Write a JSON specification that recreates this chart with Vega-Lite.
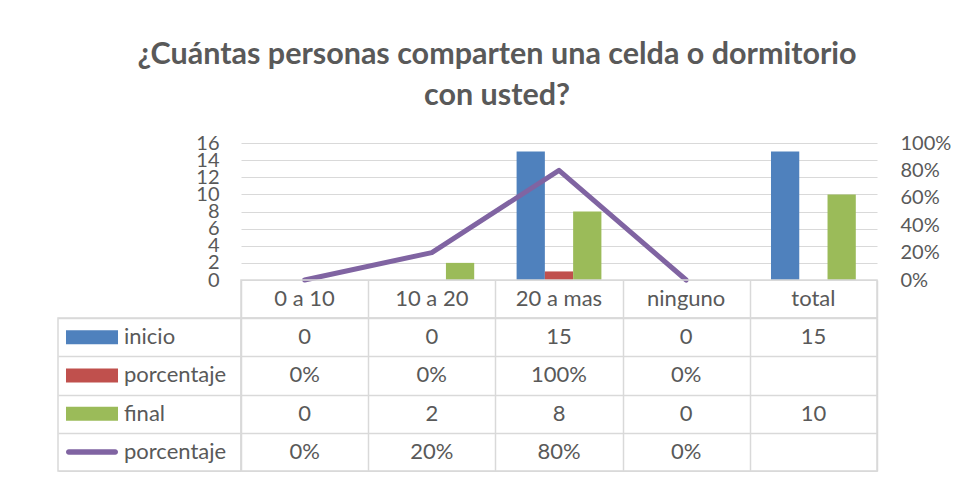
{
  "$schema": "https://vega.github.io/schema/vega-lite/v6.json",
  "background": "white",
  "padding": {"left": 57, "top": 39, "right": 0, "bottom": 0},
  "config": {
    "font": "Lato",
    "view": {"stroke": null},
    "text": {"font": "Lato", "fontSize": 22, "color": "#595959"}
  },
  "title": {
    "text": ["¿Cuántas personas comparten una celda o dormitorio", "con usted?"],
    "font": "Lato",
    "fontSize": 30.5,
    "fontWeight": "bold",
    "color": "#595959",
    "anchor": "middle",
    "lineHeight": 41,
    "offset": 22,
    "dx": -7
  },
  "datasets": {
    "datos": [
      {"cat": "0 a 10", "serie": "inicio", "value": 0, "txt": "0"},
      {"cat": "0 a 10", "serie": "porcentaje_b", "value": 0, "txt": "0%"},
      {"cat": "0 a 10", "serie": "final", "value": 0, "txt": "0"},
      {"cat": "0 a 10", "serie": "porcentaje_l", "value": 0, "txt": "0%"},
      {"cat": "10 a 20", "serie": "inicio", "value": 0, "txt": "0"},
      {"cat": "10 a 20", "serie": "porcentaje_b", "value": 0, "txt": "0%"},
      {"cat": "10 a 20", "serie": "final", "value": 2, "txt": "2"},
      {"cat": "10 a 20", "serie": "porcentaje_l", "value": 0.2, "txt": "20%"},
      {"cat": "20 a mas", "serie": "inicio", "value": 15, "txt": "15"},
      {"cat": "20 a mas", "serie": "porcentaje_b", "value": 1, "txt": "100%"},
      {"cat": "20 a mas", "serie": "final", "value": 8, "txt": "8"},
      {"cat": "20 a mas", "serie": "porcentaje_l", "value": 0.8, "txt": "80%"},
      {"cat": "ninguno", "serie": "inicio", "value": 0, "txt": "0"},
      {"cat": "ninguno", "serie": "porcentaje_b", "value": 0, "txt": "0%"},
      {"cat": "ninguno", "serie": "final", "value": 0, "txt": "0"},
      {"cat": "ninguno", "serie": "porcentaje_l", "value": 0, "txt": "0%"},
      {"cat": "total", "serie": "inicio", "value": 15, "txt": "15"},
      {"cat": "total", "serie": "porcentaje_b", "value": null, "txt": ""},
      {"cat": "total", "serie": "final", "value": 10, "txt": "10"},
      {"cat": "total", "serie": "porcentaje_l", "value": null, "txt": ""}
    ],
    "series": [
      {"serie": "inicio", "nombre": "inicio"},
      {"serie": "porcentaje_b", "nombre": "porcentaje"},
      {"serie": "final", "nombre": "final"},
      {"serie": "porcentaje_l", "nombre": "porcentaje"}
    ]
  },
  "columns": 2,
  "spacing": 0,
  "bounds": "flush",
  "resolve": {"scale": {"x": "independent", "y": "independent", "color": "independent"}},
  "concat": [
    {
      "width": 183, "height": 137,
      "data": {"values": [{}]},
      "mark": {"type": "point", "opacity": 0}
    },
    {
      "width": 636, "height": 137,
      "data": {"name": "datos"},
      "layer": [
        {
          "transform": [{"filter": "datum.serie !== 'porcentaje_l'"}],
          "mark": {"type": "bar"},
          "encoding": {
            "x": {"field": "cat", "type": "nominal", "sort": ["0 a 10", "10 a 20", "20 a mas", "ninguno", "total"],
                  "scale": {"paddingInner": 0.3333, "paddingOuter": 0.1667}, "axis": null},
            "xOffset": {"field": "serie", "type": "nominal",
                        "scale": {"domain": ["inicio", "porcentaje_b", "final"], "paddingInner": 0, "paddingOuter": 0}},
            "y": {"field": "value", "type": "quantitative",
                  "scale": {"domain": [0, 16], "nice": false},
                  "axis": {"values": [0, 2, 4, 6, 8, 10, 12, 14, 16], "grid": true, "gridColor": "#D9D9D9", "gridWidth": 1,
                           "domain": false, "ticks": false, "title": null, "labelFont": "Lato", "labelFontSize": 20,
                           "labelColor": "#595959", "labelPadding": 22, "labelFlush": false, "labelOverlap": false, "labelBound": false}},
            "color": {"field": "serie", "type": "nominal",
                      "scale": {"domain": ["inicio", "porcentaje_b", "final"], "range": ["#4F81BD", "#C0504D", "#9BBB59"]},
                      "legend": null}
          }
        },
        {
          "transform": [{"filter": "datum.serie === 'porcentaje_l' && datum.value != null"}],
          "mark": {"type": "line", "color": "#8064A2", "strokeWidth": 5, "strokeCap": "round", "strokeJoin": "round"},
          "encoding": {
            "x": {"field": "cat", "type": "nominal", "sort": ["0 a 10", "10 a 20", "20 a mas", "ninguno", "total"]},
            "y": {"field": "value", "type": "quantitative",
                  "scale": {"domain": [0, 1], "nice": false},
                  "axis": {"orient": "right", "values": [0, 0.2, 0.4, 0.6, 0.8, 1], "format": ".0%", "grid": false,
                           "domain": false, "ticks": false, "title": null, "labelFont": "Lato", "labelFontSize": 20,
                           "labelColor": "#595959", "labelPadding": 23, "labelFlush": false, "labelOverlap": false, "labelBound": false}}
          }
        }
      ],
      "resolve": {"scale": {"y": "independent"}}
    },
    {
      "width": 183, "height": 38,
      "data": {"values": [{}]},
      "mark": {"type": "point", "opacity": 0}
    },
    {
      "width": 636, "height": 38,
      "view": {"stroke": "#D9D9D9", "strokeWidth": 1.5},
      "data": {"name": "datos"},
      "transform": [{"filter": "datum.serie === 'inicio'"}],
      "mark": {"type": "text", "font": "Lato", "fontSize": 22, "color": "#595959"},
      "encoding": {
        "x": {"field": "cat", "type": "nominal", "sort": ["0 a 10", "10 a 20", "20 a mas", "ninguno", "total"],
              "scale": {"paddingInner": 0, "paddingOuter": 0},
              "axis": {"grid": true, "tickBand": "extent", "gridColor": "#D9D9D9", "gridWidth": 1.5, "labels": false,
                       "ticks": false, "domain": false, "title": null}},
        "text": {"field": "cat"}
      }
    },
    {
      "width": 183, "height": 153,
      "view": {"stroke": "#D9D9D9", "strokeWidth": 1.5},
      "data": {"name": "series"},
      "encoding": {
        "y": {"field": "serie", "type": "nominal",
              "scale": {"domain": ["inicio", "porcentaje_b", "final", "porcentaje_l"], "paddingInner": 0, "paddingOuter": 0},
              "axis": {"grid": true, "tickBand": "extent", "gridColor": "#D9D9D9", "gridWidth": 1.5, "labels": false,
                       "ticks": false, "domain": false, "title": null}}
      },
      "layer": [
        {
          "transform": [{"filter": "datum.serie !== 'porcentaje_l'"}],
          "mark": {"type": "bar", "height": 14},
          "encoding": {
            "x": {"datum": "sym", "type": "nominal",
                  "scale": {"domain": ["sym", "lbl"], "paddingInner": 0.1034, "paddingOuter": 0.629, "align": 0.1096},
                  "axis": null},
            "color": {"field": "serie", "type": "nominal",
                      "scale": {"domain": ["inicio", "porcentaje_b", "final"], "range": ["#4F81BD", "#C0504D", "#9BBB59"]},
                      "legend": null}
          }
        },
        {
          "transform": [{"filter": "datum.serie === 'porcentaje_l'"}],
          "mark": {"type": "bar", "height": 5.5, "cornerRadius": 2.75, "color": "#8064A2"},
          "encoding": {
            "x": {"datum": "sym", "type": "nominal"}
          }
        },
        {
          "mark": {"type": "text", "align": "left", "font": "Lato", "fontSize": 22, "color": "#595959"},
          "encoding": {
            "x": {"datum": "lbl", "type": "nominal", "bandPosition": 0},
            "text": {"field": "nombre"}
          }
        }
      ]
    },
    {
      "width": 636, "height": 153,
      "view": {"stroke": "#D9D9D9", "strokeWidth": 1.5},
      "data": {"name": "datos"},
      "mark": {"type": "text", "font": "Lato", "fontSize": 22, "color": "#595959"},
      "encoding": {
        "x": {"field": "cat", "type": "nominal", "sort": ["0 a 10", "10 a 20", "20 a mas", "ninguno", "total"],
              "scale": {"paddingInner": 0, "paddingOuter": 0},
              "axis": {"grid": true, "tickBand": "extent", "gridColor": "#D9D9D9", "gridWidth": 1.5, "labels": false,
                       "ticks": false, "domain": false, "title": null}},
        "y": {"field": "serie", "type": "nominal",
              "scale": {"domain": ["inicio", "porcentaje_b", "final", "porcentaje_l"], "paddingInner": 0, "paddingOuter": 0},
              "axis": {"grid": true, "tickBand": "extent", "gridColor": "#D9D9D9", "gridWidth": 1.5, "labels": false,
                       "ticks": false, "domain": false, "title": null}},
        "text": {"field": "txt"}
      }
    }
  ]
}
